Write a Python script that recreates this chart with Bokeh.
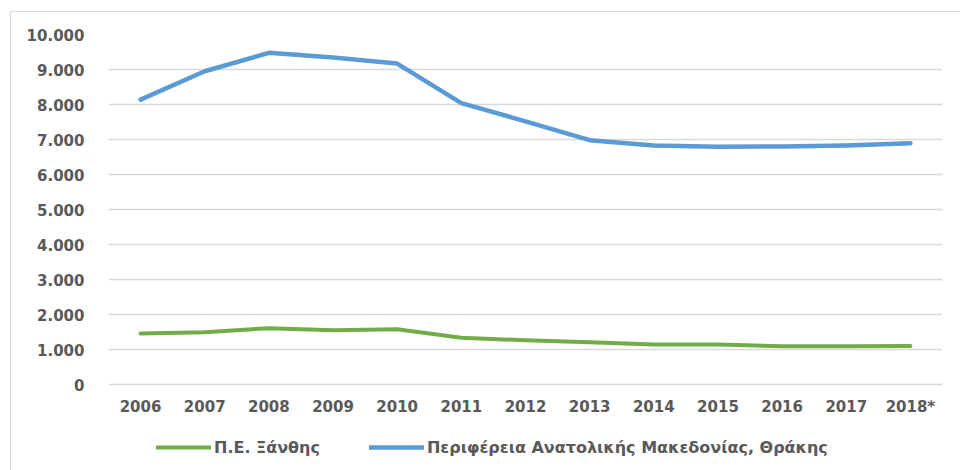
from bokeh.plotting import figure
from bokeh.models import (ColumnDataSource, Range1d, FactorRange, Legend, LegendItem,
                          FixedTicker, CustomJSTickFormatter, CategoricalAxis)
from bokeh.embed import file_html
from bokeh.resources import INLINE

years = ["2006", "2007", "2008", "2009", "2010", "2011", "2012",
         "2013", "2014", "2015", "2016", "2017", "2018*"]
xanthi = [1460, 1495, 1610, 1550, 1580, 1335, 1265, 1210, 1145, 1140, 1095, 1095, 1100]
amth = [8140, 8950, 9476, 9340, 9170, 8040, 7520, 6980, 6830, 6790, 6800, 6830, 6890]
y_ticks = [0, 1000, 2000, 3000, 4000, 5000, 6000, 7000, 8000, 9000, 10000]
label_xanthi = "Π.Ε. Ξάνθης"
label_amth = "Περιφέρεια Ανατολικής Μακεδονίας, Θράκης"

GREEN = "#70AD47"
BLUE = "#5B9BD5"
TXT = "#595959"
FONT = "DejaVu Sans"

src = ColumnDataSource(dict(year=years, xanthi=xanthi, amth=amth))

# frame extends below the value axis so the legend can sit inside it
y_bottom = -10000 * 87 / 350
p = figure(x_range=FactorRange(*years), y_range=Range1d(y_bottom, 10000),
           width=950, height=459, output_backend="svg", toolbar_location=None,
           x_axis_location=None,
           min_border_left=97, min_border_right=19, min_border_top=22, min_border_bottom=0)
p.margin = (11, 0, 0, 10)
p.styles = {"border-top": "1px solid #d9d9d9", "border-left": "1px solid #d9d9d9"}
p.outline_line_color = None
p.background_fill_color = "white"
p.border_fill_color = "white"

xax = CategoricalAxis(fixed_location=0)
p.add_layout(xax, "above")

p.xgrid.grid_line_color = None
p.ygrid.grid_line_color = "#d9d9d9"
p.ygrid.grid_line_width = 1.5

p.yaxis.ticker = FixedTicker(ticks=y_ticks)
p.yaxis.formatter = CustomJSTickFormatter(code="""
    if (tick == 0) return '0';
    return (tick/1000).toFixed(0) + '.000';
""")
for ax in (xax, p.yaxis[0]):
    ax.axis_line_color = None
    ax.major_tick_line_color = None
    ax.minor_tick_line_color = None
    ax.major_label_text_font = FONT
    ax.major_label_text_font_style = "bold"
    ax.major_label_text_font_size = "15px"
    ax.major_label_text_color = TXT
p.yaxis.major_label_standoff = 18
xax.major_label_standoff = -37

r1 = p.line("year", "xanthi", source=src, line_color=GREEN, line_width=4,
            line_cap="round", line_join="round")
r2 = p.line("year", "amth", source=src, line_color=BLUE, line_width=4.5,
            line_cap="round", line_join="round")

legend = Legend(items=[LegendItem(label=label_xanthi, renderers=[r1]),
                       LegendItem(label=label_amth, renderers=[r2])],
                orientation="horizontal", location=(48, 14))
legend.padding = 0
legend.margin = 0
legend.spacing = 49
legend.glyph_width = 55
legend.glyph_height = 20
legend.label_standoff = 3
legend.border_line_alpha = 0
legend.background_fill_alpha = 0
legend.label_text_font = FONT
legend.label_text_font_style = "bold"
legend.label_text_font_size = "16px"
legend.label_text_color = TXT
p.add_layout(legend, "center")

open("out.html", "w").write(file_html(p, INLINE))
